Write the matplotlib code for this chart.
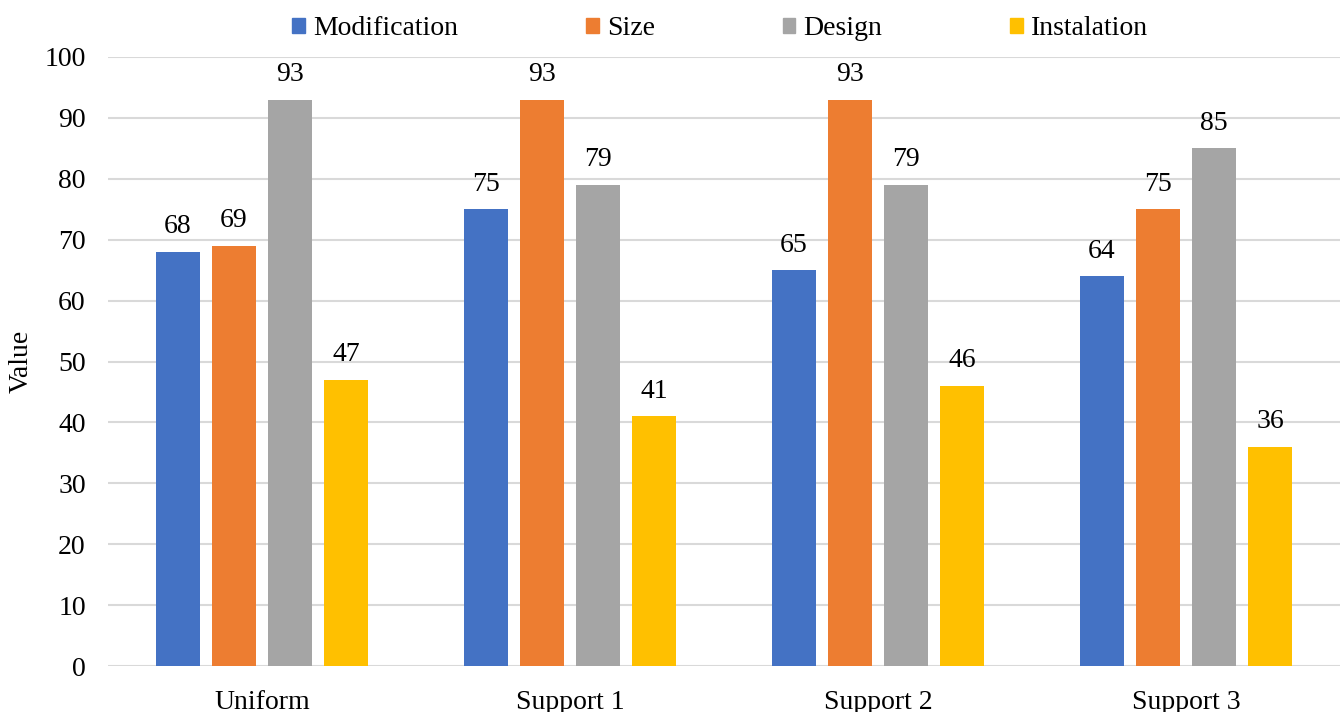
import numpy as np
import matplotlib.pyplot as plt
from matplotlib.patches import Patch

plt.rcParams['font.family'] = ['Liberation Serif', 'DejaVu Serif']

categories = ['Uniform', 'Support 1', 'Support 2', 'Support 3']
series_names = ['Modification', 'Size', 'Design', 'Instalation']
modification = [68, 75, 65, 64]
size = [69, 93, 93, 75]
design = [93, 79, 79, 85]
instalation = [47, 41, 46, 36]
colors = ['#4472C4', '#ED7D31', '#A5A5A5', '#FFC000']

fs = 20
x = np.arange(len(categories))
pitch = 0.182
width = 0.143

fig = plt.figure(figsize=(13.41, 7.12), dpi=100)
ax = fig.add_axes([108 / 1341, 46 / 712, 1232 / 1341, 609 / 712])

all_series = [modification, size, design, instalation]
for i, (vals, name, c) in enumerate(zip(all_series, series_names, colors)):
    pos = x + (i - 1.5) * pitch
    bars = ax.bar(pos, vals, width, color=c, label=name, zorder=3)
    for b, v in zip(bars, vals):
        ax.annotate(str(v), (b.get_x() + b.get_width() / 2, v),
                    xytext=(0, 9), textcoords='offset points',
                    ha='center', va='bottom', fontsize=fs)

ax.set_xlim(-0.5, 3.5)
ax.set_ylim(0, 100)
ax.set_yticks(np.arange(0, 101, 10))
ax.set_xticks(x)
ax.set_xticklabels(categories)
ax.tick_params(axis='both', length=0, labelsize=fs)
ax.tick_params(axis='x', pad=17)
ax.tick_params(axis='y', pad=16)
ax.grid(axis='y', color='#d9d9d9', linewidth=1.5, zorder=0)
for s in ['top', 'right', 'left', 'bottom']:
    ax.spines[s].set_visible(False)
ax.set_ylabel('Value', fontsize=fs, labelpad=8)

handles = [Patch(color=c) for c in colors]
ax.legend(handles, series_names, loc='upper center', bbox_to_anchor=(0.497, 1.108),
          ncol=4, frameon=False, fontsize=fs, handlelength=0.45, handleheight=0.45,
          handletextpad=0.3, columnspacing=4.6)

plt.savefig('out.png', dpi=100)
